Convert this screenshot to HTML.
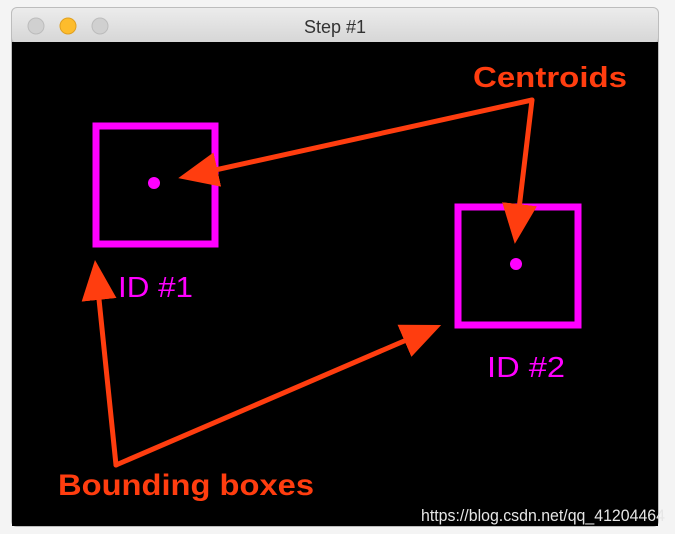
<!DOCTYPE html>
<html><head><meta charset="utf-8"><style>
html,body{margin:0;padding:0;background:#f4f4f4;width:675px;height:534px;overflow:hidden}
svg{display:block}
</style></head><body>
<svg width="675" height="534" viewBox="0 0 675 534">
<defs>
<linearGradient id="tb" x1="0" y1="0" x2="0" y2="1"><stop offset="0" stop-color="#ececec"/><stop offset="1" stop-color="#d6d6d6"/></linearGradient>
<marker id="ah" markerWidth="8" markerHeight="7" refX="6" refY="3.5" orient="auto" markerUnits="strokeWidth"><path d="M0,0 L8,3.5 L0,7 Z" fill="#ff3d0f"/></marker>
</defs>
<rect x="11" y="7" width="648" height="520" rx="6" fill="#bdbdbd"/>
<rect x="12" y="8" width="646" height="35" rx="5" fill="url(#tb)"/>
<circle cx="36" cy="26" r="8" fill="#d0d0d0" stroke="#bcbcbc"/>
<circle cx="68" cy="26" r="8" fill="#fdbc2c" stroke="#e0a020"/>
<circle cx="100" cy="26" r="8" fill="#d0d0d0" stroke="#bcbcbc"/>
<text x="335" y="33" text-anchor="middle" font-family="Liberation Sans, sans-serif" font-size="18" fill="#333">Step #1</text>
<rect x="12" y="42" width="646" height="484" fill="#000"/>
<rect x="96" y="126" width="119" height="118" fill="none" stroke="#ff00ff" stroke-width="7"/>
<circle cx="154" cy="183" r="6" fill="#ff00ff"/>
<text x="118" y="297" textLength="75" lengthAdjust="spacingAndGlyphs" font-family="Liberation Sans, sans-serif" font-size="29" fill="#ff00ff">ID #1</text>
<rect x="458" y="207" width="120" height="118" fill="none" stroke="#ff00ff" stroke-width="7"/>
<circle cx="516" cy="264" r="6" fill="#ff00ff"/>
<text x="487" y="377" textLength="78" lengthAdjust="spacingAndGlyphs" font-family="Liberation Sans, sans-serif" font-size="29" fill="#ff00ff">ID #2</text>
<g stroke="#ff3d0f" stroke-width="5" fill="none" stroke-linecap="round">
<line x1="532" y1="100" x2="188" y2="176" marker-end="url(#ah)"/>
<line x1="532" y1="100" x2="516" y2="234" marker-end="url(#ah)"/>
<line x1="116" y1="465" x2="96" y2="270" marker-end="url(#ah)"/>
<line x1="116" y1="465" x2="432" y2="329" marker-end="url(#ah)"/>
</g>
<text x="473" y="87" textLength="154" lengthAdjust="spacingAndGlyphs" font-family="Liberation Sans, sans-serif" font-weight="bold" font-size="29" fill="#ff3d0f">Centroids</text>
<text x="58" y="495" textLength="256" lengthAdjust="spacingAndGlyphs" font-family="Liberation Sans, sans-serif" font-weight="bold" font-size="30" fill="#ff3d0f">Bounding boxes</text>
<text x="421" y="521" textLength="244" lengthAdjust="spacingAndGlyphs" font-family="Liberation Sans, sans-serif" font-size="17" fill="#e6e6e6">https://blog.csdn.net/qq_41204464</text>
</svg>
</body></html>
